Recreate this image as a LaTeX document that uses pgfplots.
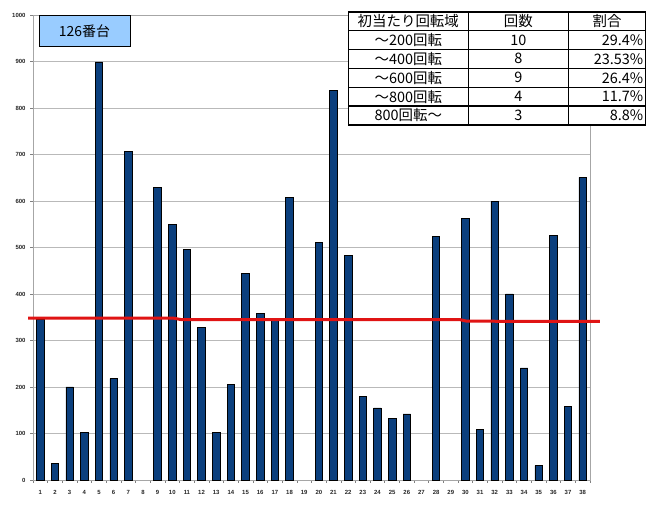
\documentclass[border=0pt]{standalone}
\usepackage{fontspec}
\setmainfont{Liberation Sans}
\newfontfamily\cjk{Noto Sans CJK JP}
\usepackage{pgfplots}
\pgfplotsset{compat=1.18}
\definecolor{barblue}{HTML}{0B3F7D}
\definecolor{boxblue}{HTML}{99CCFF}
\definecolor{redline}{HTML}{E01414}
\begin{document}
\begin{tikzpicture}
\path[use as bounding box] (0bp,0bp) rectangle (652bp,519bp);
\begin{axis}[
  at={(33bp,39bp)}, anchor=south west,
  scale only axis, width=557bp, height=465bp,
  xmin=0.5, xmax=38.5, ymin=0, ymax=1000,
  ytick={0,100,...,1000},
  xtick={1,...,38},
  minor xtick={0.5,1.5,...,38.5},
  major x tick style={draw=none},
  minor tick length=3bp, major tick length=3bp,
  tick align=outside,
  xtick pos=bottom, ytick pos=left,
  tick style={gray, line width=0.6bp},
  axis line style={gray!70, line width=0.8bp},
  ymajorgrids, grid style={gray!55, line width=0.8bp},
  /pgf/number format/1000 sep={},
  /pgf/number format/assume math mode=true,
  ticklabel style={font=\fontsize{6}{6}\selectfont\bfseries, text=black!85},
  xticklabel style={yshift=-4bp},
  yticklabel style={xshift=-1bp},
  clip=false,
]
\addplot[ybar, bar width=7.5bp, fill=barblue, draw=black, line width=0.7bp] coordinates {
(1,345) (2,35) (3,200) (4,102) (5,899) (6,218) (7,706)
(9,630) (10,550) (11,496) (12,329) (13,102) (14,205) (15,444) (16,359)
(17,345) (18,607) (20,511) (21,838) (22,483) (23,179) (24,155) (25,133)
(26,142) (28,524) (30,563) (31,109) (32,599) (33,400) (34,241) (35,31)
(36,526) (37,159) (38,651)
};
\addplot[redline, line width=3bp] coordinates {
(0.16,348) (10.1,348) (10.6,345) (29.6,345) (30.1,341.5) (39.18,341)
};
\end{axis}
\begin{scope}[x=1bp,y=1bp]
% label box
\draw[fill=boxblue, line width=1bp] (39,472) rectangle (130,503);
\node[font=\cjk\fontsize{14}{14}\selectfont, inner sep=0] at (84.5,487.5) {126番台};
% table
\draw[fill=white, line width=1.2bp] (348.3,394) rectangle (645.7,507);
\foreach \yy in {488.3,469.7,450.7,431.7,413} {\draw[line width=1.2bp] (348.3,\yy) -- (645.7,\yy);}
\draw[line width=1.2bp] (468.3,394) -- (468.3,507);
\draw[line width=1.2bp] (568.3,394) -- (568.3,507);
\begin{scope}[every node/.style={font=\cjk\fontsize{14.5}{14.5}\selectfont, inner sep=0}]
\node at (408.3,497.7) {初当たり回転域};
\node at (518.3,497.7) {回数};
\node at (607,497.7) {割合};
\node at (408.3,479) {～200回転};
\node at (408.3,460.2) {～400回転};
\node at (408.3,441.2) {～600回転};
\node at (408.3,422.3) {～800回転};
\node at (408.3,403.5) {800回転～};
\node at (518.3,479) {10};
\node at (518.3,460.2) {8};
\node at (518.3,441.2) {9};
\node at (518.3,422.3) {4};
\node at (518.3,403.5) {3};
\node[anchor=east] at (643.5,479) {29.4\%};
\node[anchor=east] at (643.5,460.2) {23.53\%};
\node[anchor=east] at (643.5,441.2) {26.4\%};
\node[anchor=east] at (643.5,422.3) {11.7\%};
\node[anchor=east] at (643.5,403.5) {8.8\%};
\end{scope}
\end{scope}
\end{tikzpicture}
\end{document}
